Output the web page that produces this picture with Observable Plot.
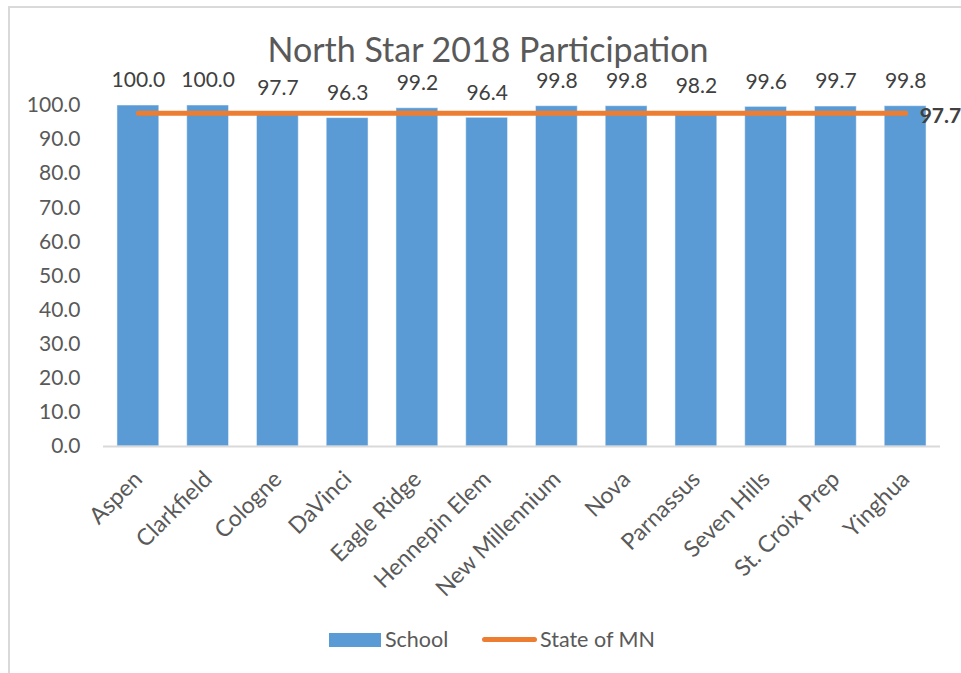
<!DOCTYPE html>
<html>
<head>
<meta charset="utf-8">
<script src="https://cdn.jsdelivr.net/npm/d3@7"></script>
<script src="https://cdn.jsdelivr.net/npm/@observablehq/plot@0.6"></script>
<style>
  html, body { margin: 0; padding: 0; background: #fff; }
  #wrap { position: relative; width: 961px; height: 673px; overflow: hidden; font-family: Lato, "Open Sans", sans-serif; color: #595959; }
  #border { position: absolute; left: 8px; top: 6px; width: 970px; height: 700px; border-top: 2px solid #d9d9d9; border-left: 2px solid #d9d9d9; box-sizing: border-box; }
  #title { position: absolute; left: 0; width: 976px; top: 28px; text-align: center; font-size: 34px; line-height: 42px; color: #595959; }
  #chart { position: absolute; left: 0; top: 0; }
  .leg { position: absolute; font-size: 21.5px; line-height: 24px; color: #595959; }
</style>
</head>
<body>
<div id="wrap">
  <div id="border"></div>
  <div id="chart"></div>
  <div id="title">North Star 2018 Participation</div>
  <div class="leg" style="left:329px;top:633px;width:52px;height:14px;background:#5B9BD5;"></div>
  <div class="leg" style="left:385px;top:627px;">School</div>
  <div class="leg" style="left:482px;top:637px;width:55px;height:5px;border-radius:3px;background:#ED7D31;"></div>
  <div class="leg" style="left:540px;top:627px;">State of MN</div>
</div>
<script>
const schools = ["Aspen", "Clarkfield", "Cologne", "DaVinci", "Eagle Ridge", "Hennepin Elem", "New Millennium", "Nova", "Parnassus", "Seven Hills", "St. Croix Prep", "Yinghua"];
const schoolValues = [100.0, 100.0, 97.7, 96.3, 99.2, 96.4, 99.8, 99.8, 98.2, 99.6, 99.7, 99.8];
const stateValues = [97.7, 97.7, 97.7, 97.7, 97.7, 97.7, 97.7, 97.7, 97.7, 97.7, 97.7, 97.7];
const yTicks = [0, 10, 20, 30, 40, 50, 60, 70, 80, 90, 100];

const bars = schools.map((s, i) => ({school: s, value: schoolValues[i]}));
const state = schools.map((s, i) => ({school: s, value: stateValues[i]}));
const lastState = [state[state.length - 1]];

const chart = Plot.plot({
  width: 961,
  height: 673,
  marginLeft: 103,
  marginRight: 21,
  marginTop: 105,
  marginBottom: 227,
  style: {fontFamily: "Lato, 'Open Sans', sans-serif", background: "transparent", overflow: "visible"},
  x: {domain: schools, paddingInner: 0.4, paddingOuter: 0.2, round: false, label: null},
  y: {domain: [0, 100], label: null},
  marks: [
    Plot.barY(bars, {x: "school", y: "value", fill: "#5B9BD5", stroke: "#ffffff", strokeOpacity: 0.5, strokeWidth: 1}),
    Plot.ruleY([0], {stroke: "#d9d9d9", strokeWidth: 2}),
    Plot.axisY({ticks: yTicks, tickFormat: d => d.toFixed(1), tickSize: 0, tickPadding: 23, fontSize: 21, fill: "#595959"}),
    Plot.axisX({tickSize: 0, tickRotate: -45, tickPadding: 29, fontSize: 23, fill: "#595959"}),
    Plot.text(bars, {x: "school", y: "value", text: d => d.value.toFixed(1), dy: -25, fontSize: 21, fill: "#404040"}),
    Plot.line(state, {x: "school", y: "value", stroke: "#ED7D31", strokeWidth: 5, strokeLinecap: "round"}),
    Plot.text(lastState, {x: "school", y: "value", text: d => d.value.toFixed(1), dx: 14, dy: 3, textAnchor: "start", fontSize: 21, fontWeight: "bold", fill: "#404040"})
  ]
});
document.getElementById("chart").appendChild(chart);
</script>
</body>
</html>
